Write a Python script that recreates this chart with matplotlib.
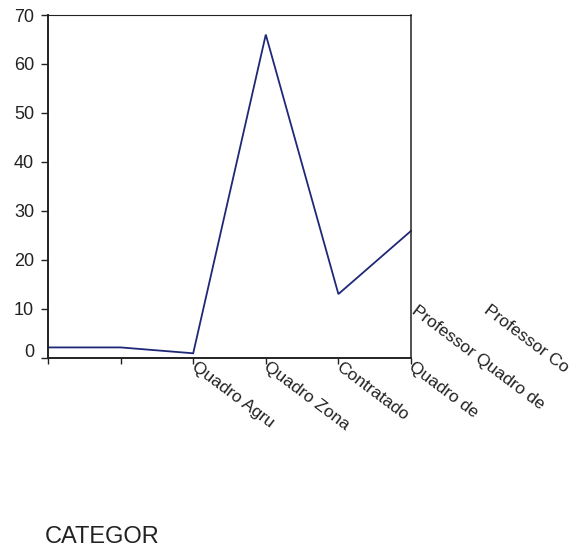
import matplotlib
matplotlib.use("Agg")
import matplotlib.pyplot as plt
from matplotlib.transforms import ScaledTranslation

plt.rcParams['font.family'] = ['Liberation Sans', 'DejaVu Sans']

x_positions = [0, 1, 2, 3, 4, 5]
values = [2.1, 2.1, 0.9, 66.0, 13.0, 25.9]
category_labels = ["Quadro Agru", "Quadro Zona", "Contratado", "Quadro de",
                   "Professor Quadro de", "Professor Co"]
label_positions = [2, 3, 4, 5, 6, 7]
y_ticks = [0, 10, 20, 30, 40, 50, 60, 70]
axis_title = "CATEGOR"

fig = plt.figure(figsize=(5.74, 5.48), dpi=100)
ax = fig.add_axes([48/574, 1 - 357.7/548, (411-48)/574, (357.7-15)/548])

ax.plot(x_positions, values, color='#1f2877', linewidth=1.3, solid_joinstyle='miter', clip_on=False)

ax.set_xlim(0, 5)
ax.set_ylim(0, 70)
ax.set_yticks(y_ticks)
ax.set_yticklabels([str(t) for t in y_ticks])
ax.set_xticks(x_positions)
ax.set_xticklabels([])

txtc = '#222222'
ax.tick_params(axis='y', direction='out', length=5, width=1.0, colors='#222222',
               labelsize=13, pad=5, labelcolor=txtc)
ax.tick_params(axis='x', direction='out', length=4, width=1.0, colors='#222222')

# shift the "0" label up slightly, as in the reference
lbl0 = ax.get_yticklabels()[0]
lbl0.set_transform(lbl0.get_transform() + ScaledTranslation(0, 7/100, fig.dpi_scale_trans))

ax.spines['left'].set_linewidth(1.4)
ax.spines['bottom'].set_linewidth(1.4)
ax.spines['right'].set_linewidth(1.1)
ax.spines['top'].set_linewidth(0.8)
for s in ax.spines.values():
    s.set_color('#222222')

trans = ax.get_xaxis_transform()
for pos, lab in zip(label_positions, category_labels):
    if pos <= 5:
        ax.text(pos + 0.06, -0.005, lab, transform=trans, rotation=-37, rotation_mode='anchor',
                ha='left', va='top', fontsize=12.5, color=txtc, clip_on=False)
    else:
        ax.text(pos - 0.91, 0.16, lab, transform=trans, rotation=-37, rotation_mode='anchor',
                ha='left', va='top', fontsize=12.5, color=txtc, clip_on=False)

fig.text(45/574, 1 - 537/548, axis_title, ha='left', va='center', fontsize=17, color=txtc)

fig.savefig("out.png", dpi=100)
